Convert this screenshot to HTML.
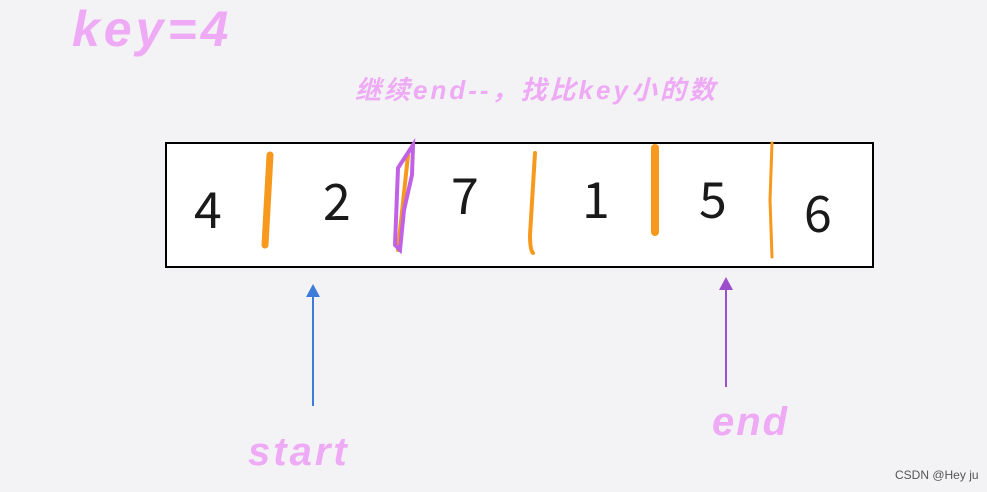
<!DOCTYPE html>
<html><head><meta charset="utf-8"><style>
body{margin:0;width:987px;height:492px;background:#f3f2f5;position:relative;overflow:hidden;font-family:"Liberation Sans",sans-serif}
.t{position:absolute;color:#eeaaf5;font-weight:bold;white-space:nowrap}
.n{position:absolute;font-size:50px;line-height:1;color:#1a1a1a;font-family:"Noto Sans CJK SC","DejaVu Sans",sans-serif}
</style></head><body>
<div class="t" style="left:72px;top:0px;font-size:50px;font-style:italic;letter-spacing:4px">key=4</div>
<div class="t" style="left:355px;top:70px;font-size:26px;letter-spacing:3px;font-family:'Liberation Sans','Noto Sans CJK SC',sans-serif;font-style:italic">继续end--，找比key小的数</div>
<div style="position:absolute;left:165px;top:142px;width:705px;height:122px;background:#fff;border:2px solid #000"></div>
<div class="n" style="left:194px;top:182px">4</div>
<div class="n" style="left:323px;top:174px">2</div>
<div class="n" style="left:451px;top:168px">7</div>
<div class="n" style="left:582px;top:172px">1</div>
<div class="n" style="left:699px;top:172px">5</div>
<div class="n" style="left:804px;top:186px">6</div>
<svg width="987" height="492" style="position:absolute;left:0;top:0">
<g stroke="#f7991c" stroke-linecap="round" fill="none">
<line x1="270" y1="155" x2="265" y2="245" stroke-width="7"/>
<path d="M408 155 L398 250" stroke-width="4"/>
<path d="M535 153 L530 235 Q530 250 533 253" stroke-width="4"/>
<line x1="655" y1="148" x2="655" y2="232" stroke-width="8"/>
<path d="M772 143 L770 200 L772 257" stroke-width="3"/>
</g>
<path d="M413 145 L398 168 L395 245 L400 250 L404 210 L412 175 Z" stroke="#c061e6" stroke-width="4" fill="none"/>
<line x1="313" y1="406" x2="313" y2="295" stroke="#3b7dd8" stroke-width="2"/>
<polygon points="313,284 306,297 320,297" fill="#3b7dd8"/>
<line x1="726" y1="387" x2="726" y2="288" stroke="#9b4fcc" stroke-width="2"/>
<polygon points="726,277 719,290 733,290" fill="#9b4fcc"/>
</svg>
<div class="t" style="left:248px;top:430px;font-size:40px;font-style:italic;letter-spacing:3px">start</div>
<div class="t" style="left:712px;top:400px;font-size:40px;font-style:italic;letter-spacing:2px">end</div>
<div style="position:absolute;left:895px;top:468px;font-size:12px;color:#555">CSDN @Hey ju</div>
</body></html>
